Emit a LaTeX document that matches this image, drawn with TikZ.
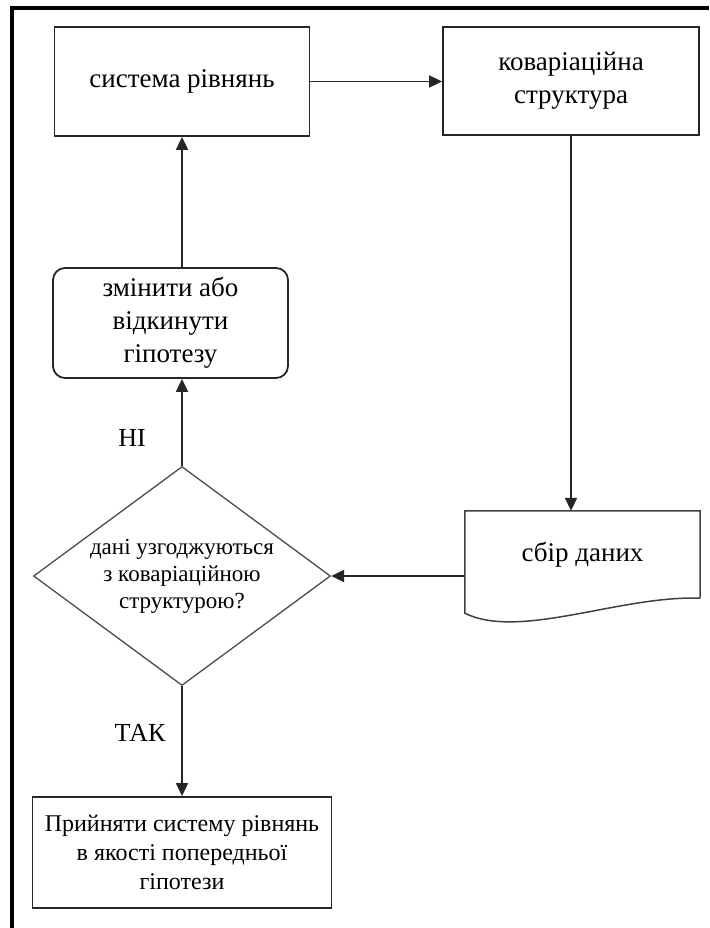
\documentclass[tikz,border=0pt]{standalone}
\usepackage{fontspec}
\setmainfont{Liberation Serif}
\usetikzlibrary{arrows.meta,positioning,shapes.geometric}

\begin{document}
\begin{tikzpicture}[
    x=1pt, y=-1pt,
    >={Triangle[length=13pt,width=12pt]},
    box/.style={rectangle, draw=black!85, line width=1.8pt, align=center, inner sep=0pt},
    decision/.style={diamond, draw=black!70, line width=1.3pt, align=center, inner sep=0pt, aspect=1.356},
    every node/.style={font=\fontsize{27}{33}\selectfont},
    lbl/.style={font=\fontsize{26}{30}\selectfont},
    conn/.style={->, draw=black!85, line width=1.8pt}
  ]

    \useasboundingbox (0,0) rectangle (709,928);

    %=== X (columns) ===%
    \def\xl{182}
    \def\xr{571}

    %=== frame ===%
    \draw[line width=4.5pt] (12,928) -- (12,8) -- (709,8);

    %=== top row ===%
    \node[box, minimum width=255pt, minimum height=109pt] (sys) at (\xl, 81.5) {система рівнянь};
    \node[box, minimum width=256pt, minimum height=108pt] (cov) at (\xr, 81) {коваріаційна\\структура};

    %=== left column ===%
    \node[box, rounded corners=12pt, minimum width=235pt, minimum height=110pt] (chg) at (170.5, 323) {змінити або\\відкинути\\гіпотезу};
    \node[decision, minimum width=297pt, minimum height=219pt, font=\fontsize{23}{27}\selectfont] (dec) at (\xl, 576)
      {дані узгоджуються\\з коваріаційною\\структурою?};
    \node[box, minimum width=299pt, minimum height=111pt, font=\fontsize{24}{29}\selectfont] (acc) at (\xl, 852.5)
      {Прийняти систему рівнянь\\в якості попередньої\\гіпотези};

    %=== data (document shape) ===%
    \node[inner sep=0pt, minimum width=235pt, minimum height=87pt] (data) at (582.5, 554.5) {\raisebox{-4pt}{сбір даних}};
    \draw[draw=black!75, line width=1.5pt] (data.south east) -- (data.north east) -- (data.north west)
      -- ([yshift=-15pt]data.south west)
      .. controls +(55pt,-27pt) and ([xshift=-80pt,yshift=3pt]data.south east) .. (data.south east);

    %=== labels ===%
    \node[lbl] (no) at (132, 438) {НІ};
    \node[lbl] (yes) at (140, 733) {ТАК};

    %=== connectors ===%
    \draw[conn] (sys.east) -- (sys.east -| cov.west);
    \draw[conn] (cov.south) -- (cov.south |- data.north);
    \draw[conn] (data.west |- dec.east) -- (dec.east);
    \draw[conn] (dec.north) -- (dec.north |- chg.south);
    \draw[conn] (sys.south |- chg.north) -- (sys.south);
    \draw[conn] (dec.south) -- (acc.north);

  \end{tikzpicture}
\end{document}
